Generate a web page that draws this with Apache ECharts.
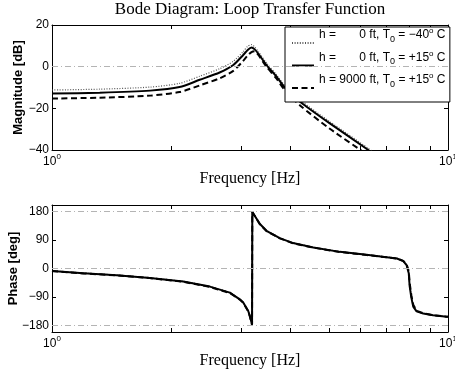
<!DOCTYPE html>
<html>
<head>
<meta charset="utf-8">
<script src="https://cdn.jsdelivr.net/npm/echarts@6/dist/echarts.min.js"></script>
<style>
  html, body { margin: 0; padding: 0; background: #fff; }
  #chart { width: 455px; height: 376px; }
</style>
</head>
<body>
<div id="chart"></div>
<script>
// Frequency samples (Hz) for the magnitude curves
const magFreq = [1.00, 1.32, 1.77, 2.10, 2.36, 2.65, 2.87, 3.04, 3.12, 3.19, 3.25, 3.32, 3.48, 3.69, 3.87, 4.23, 5.03, 6.29, 6.60];
// Magnitude in dB
const magCold = [-11.2, -10.8, -9.8, -8.0, -4.6, -1.0, 2.6, 7.2, 9.8, 10.6, 9.4, 7.2, 1.8, -3.9, -9.1, -16.0, -26.4, -39.2, -42.2];
const magSea  = [-12.9, -12.5, -11.5, -9.8, -6.3, -2.8, 0.8, 5.6, 8.0, 9.2, 8.3, 6.2, 0.8, -4.8, -10.0, -16.8, -27.2, -40.0, -43.0];
const magHigh = [-15.3, -14.9, -13.9, -12.2, -9.0, -5.6, -2.0, 2.8, 5.4, 7.0, 7.4, 5.6, 0.0, -5.8, -11.2, -18.6, -29.8, -42.6, -46.0];

// Frequency samples (Hz) for the phase curves
const phaseFreq = [1.00, 1.20, 1.455, 1.766, 2.144, 2.503, 2.812, 2.98, 3.04, 3.13, 3.16, 3.20, 3.205, 3.35, 3.48, 3.76, 4.06, 4.57, 5.33, 6.23, 7.00, 7.43, 7.71, 7.86, 7.96, 8.00, 8.08, 8.17, 8.33, 8.66, 9.17, 9.92, 10.0];
// Phase in degrees
const phaseCold = [-7.0, -14.2, -20.4, -29.0, -40.2, -56.0, -75.0, -96.0, -106.0, -133.0, -149.0, -177.0, 178.5, 141.0, 119.5, 96.5, 81.0, 67.0, 53.2, 43.8, 36.5, 32.4, 24.0, 12.0, -12.0, -50.0, -88.0, -118.0, -134.0, -141.5, -147.0, -151.0, -151.5];
const phaseSea  = [-7.5, -14.8, -21.0, -29.6, -41.0, -57.0, -76.0, -97.0, -107.0, -134.0, -150.0, -177.0, 178.0, 140.0, 118.7, 95.7, 80.0, 66.3, 52.4, 43.0, 35.7, 31.6, 23.0, 10.4, -15.0, -55.0, -91.6, -120.0, -135.0, -142.0, -147.5, -151.6, -152.0];
const phaseHigh = [-8.0, -15.4, -21.6, -30.2, -41.8, -58.0, -77.0, -98.0, -108.0, -135.0, -151.0, -177.5, 177.5, 139.0, 118.0, 95.0, 79.5, 65.8, 52.0, 42.6, 35.2, 31.2, 24.0, 13.0, -8.0, -44.0, -84.0, -114.0, -133.0, -141.0, -147.0, -151.8, -152.2];

// Axis ticks and reference lines
const freqTicks = [1, 2, 3, 4, 5, 6, 7, 8, 9, 10];
const freqLabels = [1, 10];
const magTicks = [-40, -20, 0, 20];
const phaseTicks = [-180, -90, 0, 90, 180];
const magRefLines = [0];
const phaseRefLines = [-180, 0, 180];

// Series names and their legend texts
const seriesNames = ['h = 0 ft, T0 = -40 C', 'h = 0 ft, T0 = +15 C', 'h = 9000 ft, T0 = +15 C'];
const legendTexts = [
  '{t|h = }{w| }{t|0 ft, T}{sub|0}{t| = \u221240}{sup|o}{t| C}{sp| }',
  '{t|h = }{w| }{t|0 ft, T}{sub|0}{t| = +15}{sup|o}{t| C}{sp| }',
  '{t|h = 9000 ft, T}{sub|0}{t| = +15}{sup|o}{t| C}{sp| }'
];

const SANS = '"Liberation Sans", Arial, Helvetica, sans-serif';
const SERIF = '"Liberation Serif", "Times New Roman", serif';

const styleCold = { color: '#555', width: 1.2, type: [1, 1.6] };
const styleSea  = { color: '#000', width: 2, type: 'solid' };
const styleHigh = { color: '#000', width: 2, type: [6, 3.5] };

function pairs(xs, ys) { return xs.map((x, i) => [x, ys[i]]); }
function minusFmt(v) { return v < 0 ? '\u2212' + Math.abs(v) : String(v); }

function freqAxis(gridIndex, position, withLabels) {
  return {
    type: 'log', logBase: 10, min: 1, max: 10, gridIndex: gridIndex, position: position,
    axisLine: { show: true, onZero: false, lineStyle: { color: '#000', width: 1 } },
    axisTick: { show: true, inside: true, length: 4, customValues: freqTicks, lineStyle: { color: '#000', width: 1 } },
    axisLabel: {
      show: withLabels, customValues: freqLabels, margin: 5,
      formatter: v => '{b|10}{s|' + Math.round(Math.log10(v)) + '}',
      rich: {
        b: { fontFamily: SANS, fontSize: 12, color: '#000', lineHeight: 14, verticalAlign: 'middle' },
        s: { fontFamily: SANS, fontSize: 8, color: '#000', lineHeight: 8, padding: [0, 0, 10, 0], verticalAlign: 'middle' }
      }
    },
    splitLine: { show: false },
    minorTick: { show: false },
    name: withLabels ? 'Frequency [Hz]' : '',
    nameLocation: 'middle', nameGap: 21, nameMoveOverlap: false,
    nameTextStyle: { fontFamily: SERIF, fontSize: 16, color: '#000', verticalAlign: 'top' }
  };
}

function valueAxis(gridIndex, position, withLabels, min, max, ticks, name, nameGap) {
  return {
    type: 'value', gridIndex: gridIndex, position: position, min: min, max: max,
    axisLine: { show: true, onZero: false, lineStyle: { color: '#000', width: 1 } },
    axisTick: { show: true, inside: true, length: 4, customValues: ticks, lineStyle: { color: '#000', width: 1 } },
    axisLabel: { show: withLabels, customValues: ticks, margin: 3, formatter: minusFmt,
                 fontFamily: SANS, fontSize: 12, color: '#000' },
    splitLine: { show: false },
    name: withLabels ? name : '',
    nameLocation: 'middle', nameGap: nameGap, nameMoveOverlap: false,
    nameTextStyle: { fontFamily: SANS, fontSize: 13, fontWeight: 'bold', color: '#000' }
  };
}

function refLineSeries(xi, yi, values) {
  return {
    type: 'line', xAxisIndex: xi, yAxisIndex: yi, data: [], z: 1, silent: true,
    markLine: {
      silent: true, symbol: ['none', 'none'], animation: false,
      label: { show: false },
      lineStyle: { color: '#b4b4b4', width: 1, type: [6, 3, 1, 3] },
      data: values.map(v => ({ yAxis: v }))
    }
  };
}

function curve(name, xi, yi, xs, ys, style, smooth) {
  return {
    type: 'line', name: name, xAxisIndex: xi, yAxisIndex: yi,
    data: pairs(xs, ys), symbol: 'none', showSymbol: false, symbolSize: 0,
    smooth: smooth, clip: true, z: 3,
    lineStyle: style, itemStyle: { color: style.color }
  };
}

const chart = echarts.init(document.getElementById('chart'), null, { renderer: 'canvas' });

chart.setOption({
  animation: false,
  backgroundColor: '#fff',
  title: {
    text: 'Bode Diagram: Loop Transfer Function',
    left: 250, top: 1, padding: 0, textAlign: 'center',
    textStyle: { fontFamily: SERIF, fontSize: 17, fontWeight: 'normal', color: '#000' }
  },
  grid: [
    { left: 52, right: 7, top: 25, height: 125, outerBoundsMode: 'none', containLabel: false },
    { left: 52, right: 7, top: 205, height: 127, outerBoundsMode: 'none', containLabel: false }
  ],
  xAxis: [
    freqAxis(0, 'bottom', true),
    freqAxis(0, 'top', false),
    freqAxis(1, 'bottom', true),
    freqAxis(1, 'top', false)
  ],
  yAxis: [
    Object.assign(valueAxis(0, 'left', true, -40, 20, magTicks, 'Magnitude [dB]', 27), { interval: 20 }),
    Object.assign(valueAxis(0, 'right', false, -40, 20, magTicks, '', 0), { interval: 20 }),
    valueAxis(1, 'left', true, -200, 200, phaseTicks, 'Phase [deg]', 32),
    valueAxis(1, 'right', false, -200, 200, phaseTicks, '', 0)
  ],
  legend: {
    orient: 'vertical', left: 285, top: 27,
    padding: [0, 1, 10, 6], itemGap: 2.5, itemWidth: 22, itemHeight: 10,
    backgroundColor: '#fff', borderColor: '#000', borderWidth: 1, borderRadius: 0,
    selectedMode: false, data: seriesNames,
    itemStyle: { opacity: 0 },
    formatter: n => legendTexts[seriesNames.indexOf(n)],
    textStyle: {
      fontFamily: SANS, fontSize: 12, color: '#000',
      rich: {
        t: { fontFamily: SANS, fontSize: 12, color: '#000', lineHeight: 14, padding: [2, 0, 0, 0], verticalAlign: 'top' },
        w: { width: 20, lineHeight: 14, padding: [2, 0, 0, 0], verticalAlign: 'top' },
        sub: { fontFamily: SANS, fontSize: 9, color: '#000', lineHeight: 10, padding: [8, 0, 0, 0], verticalAlign: 'top' },
        sup: { fontFamily: SANS, fontSize: 8, color: '#000', lineHeight: 8, verticalAlign: 'top' },
        sp: { width: 0, lineHeight: 32, verticalAlign: 'top' }
      }
    }
  },
  series: [
    refLineSeries(0, 0, magRefLines),
    refLineSeries(2, 2, phaseRefLines),
    curve(seriesNames[0], 0, 0, magFreq, magCold, styleCold, 0.25),
    curve(seriesNames[1], 0, 0, magFreq, magSea, styleSea, 0.25),
    curve(seriesNames[2], 0, 0, magFreq, magHigh, styleHigh, 0.25),
    curve(seriesNames[0], 2, 2, phaseFreq, phaseCold, styleCold, false),
    curve(seriesNames[1], 2, 2, phaseFreq, phaseSea, styleSea, false),
    curve(seriesNames[2], 2, 2, phaseFreq, phaseHigh, styleHigh, false)
  ]
});
</script>
</body>
</html>
